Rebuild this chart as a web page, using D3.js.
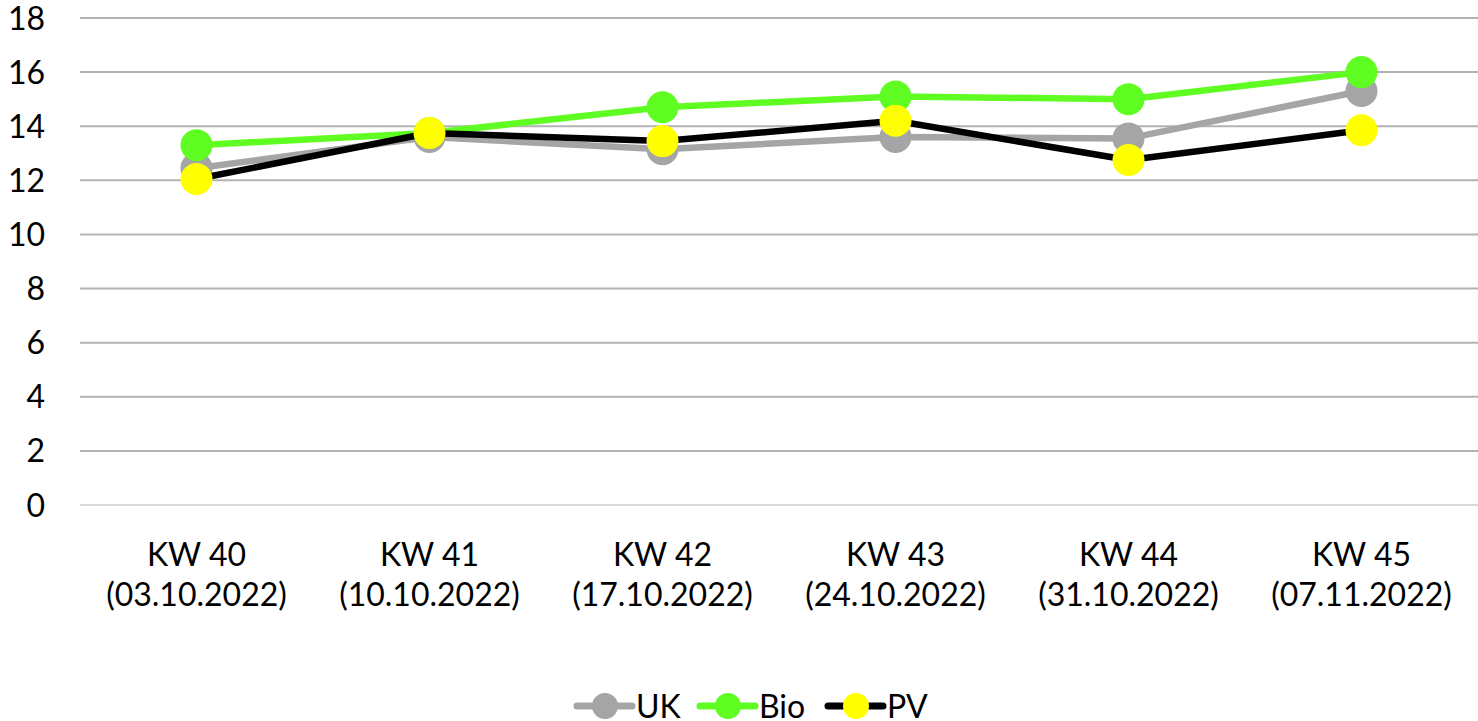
<!DOCTYPE html>
<html>
<head>
<meta charset="utf-8">
<script src="https://cdn.jsdelivr.net/npm/d3@7"></script>
<style>
  body { margin: 0; background: #fff; }
  text { font-family: Lato, "Open Sans", sans-serif; fill: #000; }
</style>
</head>
<body>
<svg id="chart" width="1478" height="721"></svg>
<script>
const weeks = ['KW 40', 'KW 41', 'KW 42', 'KW 43', 'KW 44', 'KW 45'];
const dates = ['(03.10.2022)', '(10.10.2022)', '(17.10.2022)', '(24.10.2022)', '(31.10.2022)', '(07.11.2022)'];
const uk  = [12.45, 13.6, 13.15, 13.6, 13.55, 15.3];
const bio = [13.3, 13.75, 14.7, 15.1, 15.0, 16.0];
const pv  = [12.05, 13.75, 13.45, 14.2, 12.75, 13.85];
const yTicks = [0, 2, 4, 6, 8, 10, 12, 14, 16, 18];

const series = [
    { name: 'UK', values: uk, line: '#a5a5a5', fill: '#a5a5a5' },
    { name: 'Bio', values: bio, line: '#5ffd22', fill: '#5ffd22' },
    { name: 'PV', values: pv, line: '#000000', fill: '#ffff00' }
];

const svg = d3.select('#chart');
const plotLeft = 80, plotRight = 1478, plotTop = 18, plotBottom = 505;
const fontSize = '32px';

const x = d3.scaleBand().domain(weeks).range([plotLeft, plotRight]);
const y = d3.scaleLinear().domain([0, 18]).range([plotBottom, plotTop]);

// gridlines
svg.append('g').selectAll('line')
    .data(yTicks)
    .enter()
    .append('line')
    .attr('x1', plotLeft).attr('x2', plotRight)
    .attr('y1', d => y(d)).attr('y2', d => y(d))
    .attr('stroke', d => d === 0 ? '#d9d9d9' : '#b3b3b3')
    .attr('stroke-width', 2);

// y labels
svg.append('g').selectAll('text')
    .data(yTicks)
    .enter()
    .append('text')
    .attr('x', 45)
    .attr('y', d => y(d))
    .attr('dy', '0.36em')
    .attr('text-anchor', 'end')
    .style('font-size', fontSize)
    .text(d => d);

// x labels
const xl = svg.append('g').selectAll('text')
    .data(weeks)
    .enter()
    .append('text')
    .attr('text-anchor', 'middle')
    .style('font-size', fontSize);
xl.append('tspan')
    .attr('x', d => x(d) + x.bandwidth() / 2)
    .attr('y', 566)
    .text(d => d);
xl.append('tspan')
    .attr('x', d => x(d) + x.bandwidth() / 2)
    .attr('y', 606)
    .text((d, i) => dates[i]);

const line = d3.line()
    .x((d, i) => x(weeks[i]) + x.bandwidth() / 2)
    .y(d => y(d));

series.forEach(s => {
    const g = svg.append('g');
    g.append('path')
        .attr('d', line(s.values))
        .attr('fill', 'none')
        .attr('stroke', s.line)
        .attr('stroke-width', 6.5)
        .attr('stroke-linejoin', 'round');
    g.selectAll('circle')
        .data(s.values)
        .enter()
        .append('circle')
        .attr('cx', (d, i) => x(weeks[i]) + x.bandwidth() / 2)
        .attr('cy', d => y(d))
        .attr('r', 16)
        .attr('fill', s.fill);
});

// legend
const legendX = [577, 700, 828];
const legend = svg.append('g');
series.forEach((s, i) => {
    const lx = legendX[i];
    legend.append('line')
        .attr('x1', lx).attr('x2', lx + 55)
        .attr('y1', 706).attr('y2', 706)
        .attr('stroke', s.line)
        .attr('stroke-width', 7)
        .attr('stroke-linecap', 'round');
    legend.append('circle')
        .attr('cx', lx + 28).attr('cy', 706)
        .attr('r', 13)
        .attr('fill', s.fill);
    legend.append('text')
        .attr('x', lx + 59)
        .attr('y', 706)
        .attr('dy', '0.36em')
        .style('font-size', fontSize)
        .text(s.name);
});
</script>
</body>
</html>
